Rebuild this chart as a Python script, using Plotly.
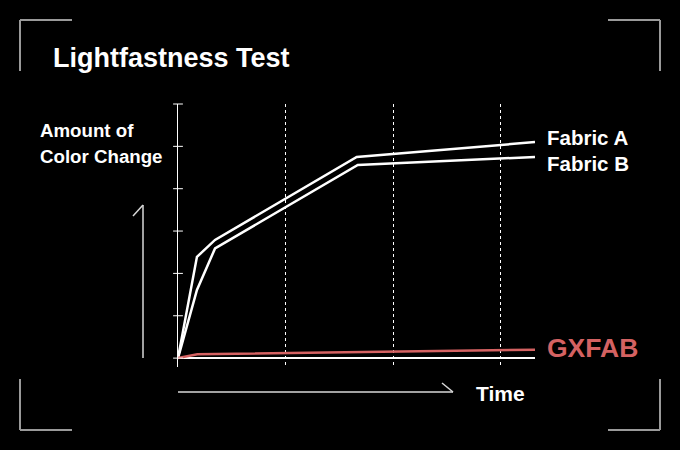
import plotly.graph_objects as go

# ---------------- data ----------------
fabric_a_x = [0, 0.176, 0.344, 1.66, 3.316]
fabric_a_y = [0, 2.39, 2.79, 4.75, 5.10]
fabric_b_x = [0, 0.176, 0.344, 1.67, 3.316]
fabric_b_y = [0, 1.61, 2.59, 4.56, 4.75]
gxfab_x = [0, 0.18, 3.316]
gxfab_y = [0, 0.09, 0.20]
y_tick_vals = [0, 1, 2, 3, 4, 5, 6]
series_names = ["Fabric A", "Fabric B", "GXFAB"]

W, H = 680, 450
FONT = "Liberation Sans, Arial, Helvetica, sans-serif"
RED = "#d46262"
GRAY = "#9a9a9a"


def px(x):
    return x / W


def py(y):
    return 1 - y / H


fig = go.Figure()

fig.add_trace(go.Scatter(x=fabric_a_x, y=fabric_a_y, mode="lines",
                         line=dict(color="white", width=2.5), name=series_names[0]))
fig.add_trace(go.Scatter(x=fabric_b_x, y=fabric_b_y, mode="lines",
                         line=dict(color="white", width=2.5), name=series_names[1]))
fig.add_trace(go.Scatter(x=gxfab_x, y=gxfab_y, mode="lines",
                         line=dict(color=RED, width=2.5), name=series_names[2]))
# y-axis tick marks crossing the axis
fig.add_trace(go.Scatter(x=[0] * len(y_tick_vals), y=y_tick_vals, mode="markers",
                         marker=dict(symbol="line-ew", size=7,
                                     line=dict(color="white", width=1)),
                         cliponaxis=False, hoverinfo="skip"))

fig.update_layout(
    width=W, height=H, autosize=False,
    margin=dict(l=0, r=0, t=0, b=0, pad=0),
    paper_bgcolor="black", plot_bgcolor="black",
    showlegend=False, hovermode=False,
    font=dict(family=FONT, color="white"),
    xaxis=dict(domain=[px(178), px(535)], range=[0, 3.316],
               showgrid=True, gridcolor="white", gridwidth=1, griddash="3px,3px",
               tick0=0, dtick=1, zeroline=False, showline=False,
               showticklabels=False, ticks="", fixedrange=True),
    yaxis=dict(domain=[py(367), py(104)], range=[-0.21, 6],
               showgrid=False, zeroline=True, zerolinecolor="white", zerolinewidth=1.5,
               showline=True, linecolor="white", linewidth=1,
               showticklabels=False, ticks="", fixedrange=True),
)

# ---------------- text ----------------
def ann(text, x, y, size, color="white", **kw):
    fig.add_annotation(text="<b>%s</b>" % text, xref="paper", yref="paper",
                       x=px(x), y=py(y), xanchor="left", yanchor="middle",
                       showarrow=False, font=dict(family=FONT, size=size, color=color), **kw)

ann("Lightfastness Test", 51, 58, 27)
ann("Amount of", 38, 130, 18.7)
ann("Color Change", 38, 156, 18.7)
ann("Time", 474, 393, 21)

labels = [(series_names[0], fabric_a_x[-1], fabric_a_y[-1], 5, 20.5, "white"),
          (series_names[1], fabric_b_x[-1], fabric_b_y[-1], -6.5, 20.5, "white"),
          (series_names[2], gxfab_x[-1], gxfab_y[-1], 1.5, 26.5, RED)]
for name, lx, ly, ys, size, col in labels:
    fig.add_annotation(text="<b>%s</b>" % name, xref="x", yref="y", x=lx, y=ly,
                       xanchor="left", yanchor="middle", xshift=10, yshift=ys,
                       showarrow=False, font=dict(family=FONT, size=size, color=col))

# ---------------- decorations ----------------
def seg(x0, y0, x1, y1, color, width):
    fig.add_shape(type="line", xref="paper", yref="paper",
                  x0=px(x0), y0=py(y0), x1=px(x1), y1=py(y1),
                  line=dict(color=color, width=width))

# corner brackets
for (cx, cy, dx, dy) in [(20, 20, 1, 1), (660, 20, -1, 1), (20, 430, 1, -1), (660, 430, -1, -1)]:
    seg(cx, cy, cx + 52 * dx, cy, GRAY, 2)
    seg(cx, cy, cx, cy + 51 * dy, GRAY, 2)

# vertical arrow
ARW = "#d8d8d8"
seg(143, 358, 143, 205, ARW, 1.5)
seg(143, 205, 133, 216, ARW, 1.5)
# horizontal arrow
seg(178, 392, 453, 392, ARW, 1.5)
seg(453, 392, 442, 383, ARW, 1.5)

fig.write_html(
    "out.html",
    config={"displayModeBar": False, "staticPlot": False},
    post_script="document.body.style.margin='0';document.body.style.background='black';"
                "document.body.style.overflow='hidden';",
)
